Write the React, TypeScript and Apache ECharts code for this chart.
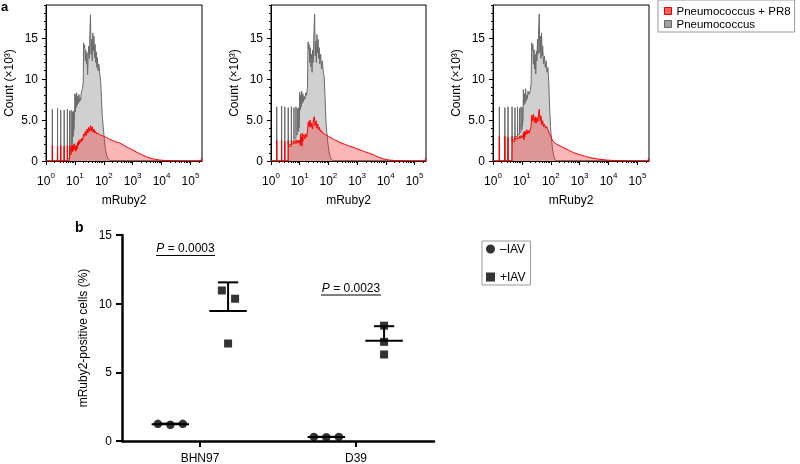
import React, { useEffect, useRef } from 'react';
import * as echarts from 'echarts';

const FONT = '"Liberation Sans", Arial, Helvetica, sans-serif';

// ---------- Panel a: flow cytometry histograms (x = log10 mRuby2, y = count x10^3) ----------
const X_MAX = 5.4;
const Y_MAX = 19;
const DECADE_TICKS = [0, 1, 2, 3, 4, 5];
const Y_LABEL_TICKS = [0, 5, 10, 15];
const LOG_MINOR: number[] = [];
for (let n = 0; n <= 5; n++) for (let k = 2; k <= 9; k++) { const v = n + Math.log10(k); if (v < X_MAX) LOG_MINOR.push(v); }

const NAME_PR8 = 'Pneumococcus + PR8';
const NAME_PN = 'Pneumococcus';

// low-channel spikes (position, peak, level after spike)
const SPIKE_X = [
  [0.22, 0.40, 0.51, 0.63, 0.74, 0.82, 0.87, 0.92, 0.96],
  [0.20, 0.37, 0.48, 0.60, 0.71, 0.80, 0.87, 0.92, 0.97],
  [0.22, 0.41, 0.52, 0.66, 0.76, 0.85, 0.92, 0.97, 1.01],
];
const GRAY_PEAK = [
  [6.3, 6.4, 6.2, 6.2, 6.3, 6.1, 6.2, 6.0, 6.1],
  [6.6, 6.7, 6.6, 6.5, 6.6, 6.5, 6.6, 6.4, 6.5],
  [6.6, 6.5, 6.6, 6.6, 6.5, 6.6, 6.4, 6.6, 6.5],
];
const GRAY_GAP = [
  [0, 0, 0, 0, 0, 0.8, 2.0, 3.0, 3.8],
  [0, 0, 0, 2.0, 2.4, 2.8, 3.2, 3.6, 4.0],
  [0, 0, 0, 2.6, 3.0, 3.2, 3.5, 3.8, 4.2],
];
const RED_PEAK = [
  [1.9, 1.8, 1.9, 1.8, 1.9, 1.8, 1.9, 1.9, 2.0],
  [2.5, 2.5, 2.4, 2.5, 2.5, 2.4, 2.6, 2.5, 2.5],
  [3.0, 3.0, 2.9, 3.0, 3.0, 2.9, 3.0, 3.1, 3.0],
];
const RED_GAP = [
  [0, 0, 0, 0, 0.3, 0.8, 1.1, 1.3, 1.5],
  [0, 0, 0, 1.8, 2.1, 2.2, 2.2, 2.3, 2.3],
  [0, 0, 0, 2.4, 2.7, 2.8, 2.8, 2.9, 2.9],
];

const GRAY_TAIL_1 = [[0.99,5.8],[1.0,8.2],[1.02,6.0],[1.03,8.0],[1.05,6.5],[1.06,8.3],[1.08,6.8],[1.10,7.9],[1.12,7.0],[1.14,8.1],[1.16,7.2],[1.18,7.7],[1.20,7.4],[1.22,8.3],[1.26,8.8],[1.29,9.6],[1.30,14.4],[1.32,13.8],[1.34,14.1],[1.36,12.2],[1.38,13.5],[1.40,11.8],[1.42,13.2],[1.44,10.5],[1.46,12.8],[1.48,14.0],[1.50,12.5],[1.52,15.8],[1.54,17.8],[1.56,13.0],[1.58,14.8],[1.60,12.2],[1.62,15.6],[1.64,13.4],[1.66,15.2],[1.68,12.6],[1.70,14.2],[1.72,12.0],[1.74,13.3],[1.76,11.4],[1.78,12.6],[1.80,11.0],[1.83,11.8],[1.86,10.6],[1.89,9.8],[1.92,7.6],[1.95,5.4],[1.98,4.2],[2.02,2.6],[2.06,1.4],[2.10,0.7],[2.15,0.25],[2.22,0.05],[2.3,0],[5.4,0]];
const RED_TAIL_1 = [[0.99,2.1],[1.0,1.6],[1.02,1.2],[1.03,1.8],[1.05,1.3],[1.06,1.9],[1.08,1.5],[1.10,2.3],[1.12,1.9],[1.14,2.5],[1.16,2.1],[1.18,2.6],[1.21,2.3],[1.24,2.8],[1.27,2.5],[1.30,3.3],[1.33,3.0],[1.36,3.6],[1.39,3.1],[1.42,3.9],[1.45,3.4],[1.48,4.1],[1.51,3.6],[1.54,4.3],[1.57,3.7],[1.60,4.2],[1.63,3.5],[1.66,3.9],[1.69,3.4],[1.72,3.6],[1.76,3.3],[1.80,3.4],[1.85,3.2],[1.90,3.15],[2.0,3.0],[2.1,2.85],[2.2,2.65],[2.3,2.5],[2.4,2.35],[2.55,2.2],[2.7,1.9],[2.85,1.6],[3.0,1.35],[3.15,1.05],[3.3,0.8],[3.47,0.53],[3.6,0.36],[3.75,0.22],[3.93,0.12],[4.1,0.07],[4.4,0.03],[4.7,0.01],[5.0,0],[5.37,0],[5.38,0.3],[5.4,0]];
const GRAY_TAIL_2 = [[0.99,5.5],[1.0,8.4],[1.02,6.2],[1.03,8.0],[1.05,6.6],[1.07,8.5],[1.09,7.0],[1.11,8.2],[1.13,7.2],[1.15,7.9],[1.18,7.5],[1.21,8.3],[1.24,8.0],[1.27,9.0],[1.29,14.5],[1.31,13.6],[1.33,14.2],[1.35,12.0],[1.37,13.8],[1.39,11.5],[1.41,13.0],[1.43,10.8],[1.45,13.5],[1.47,12.0],[1.49,15.0],[1.52,17.9],[1.54,12.8],[1.56,14.6],[1.58,12.0],[1.60,15.4],[1.62,13.2],[1.64,14.8],[1.66,12.5],[1.68,13.8],[1.70,11.8],[1.73,13.0],[1.76,11.2],[1.79,12.2],[1.82,10.8],[1.85,10.4],[1.88,8.0],[1.91,5.2],[1.94,3.6],[1.98,2.2],[2.02,1.2],[2.06,0.55],[2.10,0.2],[2.16,0.04],[2.22,0],[5.4,0]];
const RED_TAIL_2 = [[0.99,2.5],[1.0,2.4],[1.02,1.9],[1.03,3.3],[1.05,2.2],[1.06,2.9],[1.08,1.8],[1.09,3.4],[1.11,2.4],[1.12,3.0],[1.15,3.2],[1.18,2.7],[1.21,3.3],[1.24,2.9],[1.27,3.6],[1.30,4.8],[1.33,4.2],[1.36,5.0],[1.39,4.1],[1.42,4.6],[1.45,3.9],[1.48,5.1],[1.51,5.4],[1.54,4.3],[1.57,4.9],[1.60,4.0],[1.63,4.5],[1.66,3.8],[1.69,4.1],[1.72,3.6],[1.76,3.7],[1.80,3.4],[1.85,3.3],[1.90,3.2],[2.0,3.0],[2.1,2.8],[2.2,2.6],[2.38,2.3],[2.55,2.05],[2.7,1.85],[2.92,1.6],[3.1,1.35],[3.25,1.15],[3.41,0.97],[3.6,0.7],[3.75,0.45],[3.93,0.24],[4.1,0.12],[4.3,0.06],[4.5,0.03],[4.8,0.01],[5.0,0],[5.37,0],[5.38,0.3],[5.4,0]];
const GRAY_TAIL_3 = [[1.04,5.0],[1.05,8.7],[1.07,6.8],[1.09,8.2],[1.11,7.0],[1.13,8.8],[1.15,7.3],[1.17,8.0],[1.19,7.6],[1.21,8.5],[1.25,8.1],[1.29,8.6],[1.32,9.4],[1.34,14.4],[1.36,13.5],[1.38,14.2],[1.40,11.8],[1.42,13.6],[1.44,11.2],[1.46,13.0],[1.48,10.6],[1.50,13.4],[1.52,12.2],[1.54,14.8],[1.56,13.0],[1.58,16.0],[1.60,17.9],[1.62,13.2],[1.64,15.2],[1.66,12.5],[1.68,15.6],[1.70,12.8],[1.72,14.0],[1.75,11.8],[1.78,12.8],[1.81,11.4],[1.84,12.2],[1.87,10.8],[1.90,11.4],[1.93,9.6],[1.96,6.6],[1.99,4.2],[2.03,2.4],[2.07,1.2],[2.11,0.5],[2.15,0.15],[2.22,0],[5.4,0]];
const RED_TAIL_3 = [[1.04,2.9],[1.05,3.4],[1.07,2.6],[1.08,3.6],[1.10,2.9],[1.11,3.6],[1.14,3.2],[1.17,3.8],[1.20,3.3],[1.23,3.7],[1.26,3.4],[1.29,3.9],[1.32,4.2],[1.34,5.6],[1.37,4.9],[1.40,5.7],[1.43,4.7],[1.46,5.4],[1.49,4.6],[1.52,5.3],[1.55,4.8],[1.58,5.8],[1.60,6.3],[1.63,4.9],[1.66,5.5],[1.69,4.4],[1.72,4.9],[1.75,4.2],[1.78,4.5],[1.82,4.0],[1.86,4.2],[1.90,3.8],[1.93,3.5],[1.97,3.2],[2.0,3.0],[2.07,2.4],[2.2,2.05],[2.4,1.7],[2.6,1.35],[2.8,1.0],[3.0,0.78],[3.2,0.55],[3.4,0.38],[3.6,0.25],[3.92,0.12],[4.2,0.05],[4.5,0.02],[4.8,0],[5.37,0],[5.38,0.3],[5.4,0]];

const GRAY_TAILS = [GRAY_TAIL_1, GRAY_TAIL_2, GRAY_TAIL_3];
const RED_TAILS = [RED_TAIL_1, RED_TAIL_2, RED_TAIL_3];

// ---------- Panel b: mRuby2-positive cells (%) ----------
const CATEGORIES = ['BHN97', 'D39'];
const NEG_IAV = [[1.25, 1.18, 1.25], [0.30, 0.27, 0.30]];
const POS_IAV = [[10.96, 10.36, 7.10], [8.40, 7.22, 6.30]];
const P_VALUES = ['0.0003', '0.0023'];

// layout-only constants
const HIST_GRIDS = [
  { left: 46, top: 5, width: 156, height: 156 },
  { left: 271, top: 5, width: 155, height: 156 },
  { left: 493, top: 5, width: 156, height: 156 },
];
const SPIKE_HALF = 0.005;
const NEG_OFFSET = -0.19;
const POS_OFFSET = 0.18;
const NEG_JITTER = [[-0.08, 0, 0.08], [-0.08, 0, 0.08]];
const POS_JITTER = [[-0.04, 0.045, 0], [0, 0, 0]];
const MEAN_HALF = 0.12;
const CAP_HALF = 0.065;

function buildHist(xs: number[], peaks: number[], gaps: number[], tail: number[][]) {
  const pts: number[][] = [[0, 0]];
  let prev = 0;
  xs.forEach((x, i) => {
    pts.push([x - SPIKE_HALF, prev], [x, peaks[i]], [x + SPIKE_HALF, gaps[i]]);
    prev = gaps[i];
  });
  return pts.concat(tail);
}

function mean(a: number[]) { return a.reduce((s, v) => s + v, 0) / a.length; }
function sd(a: number[]) { const m = mean(a); return Math.sqrt(a.reduce((s, v) => s + (v - m) * (v - m), 0) / (a.length - 1)); }

export default function App() {
  const ref = useRef<HTMLDivElement>(null);
  useEffect(() => {
    if (!ref.current) return;
    const chart = echarts.init(ref.current, undefined, { renderer: 'svg' });

    const grid: any[] = HIST_GRIDS.map((g) => ({ ...g, show: true, borderColor: '#000', borderWidth: 1, backgroundColor: 'transparent' }));
    grid.push({ left: 122, top: 235, width: 312, height: 207 });

    const xAxis: any[] = [];
    const yAxis: any[] = [];
    const series: any[] = [];

    HIST_GRIDS.forEach((_, i) => {
      xAxis.push({
        gridIndex: i, type: 'value', position: 'bottom', min: 0, max: X_MAX,
        axisLine: { show: true, lineStyle: { color: '#000', width: 1 } },
        axisTick: { show: true, length: 4, customValues: DECADE_TICKS, lineStyle: { color: '#000', width: 1 } },
        axisLabel: {
          customValues: DECADE_TICKS, margin: 10,
          formatter: (v: number) => `{b|10}{s|${v}}`,
          rich: {
            b: { fontSize: 12, fontFamily: FONT, color: '#000', lineHeight: 16, verticalAlign: 'bottom' },
            s: { fontSize: 8, fontFamily: FONT, color: '#000', lineHeight: 9, verticalAlign: 'top' },
          },
        },
        splitLine: { show: false },
        name: 'mRuby2', nameLocation: 'middle', nameGap: 33,
        nameTextStyle: { fontSize: 12, fontFamily: FONT, color: '#000' },
      });
      xAxis.push({
        gridIndex: i, type: 'value', position: 'bottom', min: 0, max: X_MAX,
        axisLine: { show: false },
        axisTick: { show: true, length: 2, customValues: LOG_MINOR, lineStyle: { color: '#000', width: 1 } },
        axisLabel: { show: false }, splitLine: { show: false },
      });
      yAxis.push({
        gridIndex: i, type: 'value', position: 'left', min: 0, max: Y_MAX,
        axisLine: { show: true, lineStyle: { color: '#000', width: 1 } },
        axisTick: { show: true, length: 4, customValues: Y_LABEL_TICKS, lineStyle: { color: '#000', width: 1 } },
        axisLabel: {
          customValues: Y_LABEL_TICKS, margin: 8, fontSize: 12, fontFamily: FONT, color: '#000',
          formatter: (v: number) => (v === 5 ? '5.0' : String(v)),
        },
        splitLine: { show: false },
        name: 'Count (×10³)', nameLocation: 'middle', nameGap: 31,
        nameTextStyle: { fontSize: 12, fontFamily: FONT, color: '#000' },
      });
      yAxis.push({
        gridIndex: i, type: 'value', position: 'left', min: 0, max: Y_MAX, interval: 1,
        axisLine: { show: false },
        axisTick: { show: true, length: 2, lineStyle: { color: '#000', width: 1 } },
        axisLabel: { show: false }, splitLine: { show: false },
      });

      series.push({
        name: NAME_PN, type: 'line', xAxisIndex: 2 * i, yAxisIndex: 2 * i,
        data: buildHist(SPIKE_X[i], GRAY_PEAK[i], GRAY_GAP[i], GRAY_TAILS[i]),
        symbol: 'none', showSymbol: false, smooth: false,
        color: '#6a6a6a',
        lineStyle: { color: '#6a6a6a', width: 1 },
        areaStyle: { color: '#d0d0d0', opacity: 1 },
        z: 2, silent: true,
      });
      series.push({
        name: NAME_PR8, type: 'line', xAxisIndex: 2 * i, yAxisIndex: 2 * i,
        data: buildHist(SPIKE_X[i], RED_PEAK[i], RED_GAP[i], RED_TAILS[i]),
        symbol: 'none', showSymbol: false, smooth: false,
        color: '#ff0000',
        lineStyle: { color: '#ff0000', width: 1 },
        areaStyle: { color: 'rgba(250,40,40,0.48)' },
        z: 3, silent: true,
      });
    });

    // Panel b axes
    xAxis.push({
      gridIndex: 3, type: 'category', data: CATEGORIES, position: 'bottom', boundaryGap: true,
      axisLine: { show: true, lineStyle: { color: '#000', width: 2.5 } },
      axisTick: { show: true, alignWithLabel: true, length: 6, lineStyle: { color: '#000', width: 2 } },
      axisLabel: { fontSize: 12, fontFamily: FONT, color: '#000', margin: 11 },
      splitLine: { show: false },
    });
    xAxis.push({ gridIndex: 3, type: 'value', min: 0, max: 2, show: false, position: 'bottom' });
    yAxis.push({
      gridIndex: 3, type: 'value', position: 'left', min: 0, max: 15, interval: 5,
      axisLine: { show: true, lineStyle: { color: '#000', width: 2.5 } },
      axisTick: { show: true, length: 6, lineStyle: { color: '#000', width: 2 } },
      axisLabel: { fontSize: 12, fontFamily: FONT, color: '#000', margin: 10 },
      splitLine: { show: false },
      name: 'mRuby2-positive cells (%)', nameLocation: 'middle', nameGap: 33,
      nameTextStyle: { fontSize: 12, fontFamily: FONT, color: '#000' },
    });

    const negPts: number[][] = [];
    const posPts: number[][] = [];
    const summary: number[][] = [];
    CATEGORIES.forEach((_, c) => {
      NEG_IAV[c].forEach((v, j) => negPts.push([c + 0.5 + NEG_OFFSET + NEG_JITTER[c][j], v]));
      POS_IAV[c].forEach((v, j) => posPts.push([c + 0.5 + POS_OFFSET + POS_JITTER[c][j], v]));
      summary.push([c + 0.5 + NEG_OFFSET, mean(NEG_IAV[c]), sd(NEG_IAV[c])]);
      summary.push([c + 0.5 + POS_OFFSET, mean(POS_IAV[c]), sd(POS_IAV[c])]);
    });

    series.push({
      name: 'summary', type: 'custom', xAxisIndex: 7, yAxisIndex: 6, data: summary, silent: true, z: 2,
      renderItem: (_p: any, api: any) => {
        const x = api.value(0), m = api.value(1), s = api.value(2);
        const l = api.coord([x - MEAN_HALF, m]);
        const r = api.coord([x + MEAN_HALF, m]);
        const c0 = api.coord([x, m]);
        const t = api.coord([x, m + s]);
        const cl = api.coord([x - CAP_HALF, m + s]);
        const cr = api.coord([x + CAP_HALF, m + s]);
        const st = { stroke: '#000', lineWidth: 2 };
        return {
          type: 'group',
          children: [
            { type: 'line', shape: { x1: l[0], y1: l[1], x2: r[0], y2: r[1] }, style: st },
            { type: 'line', shape: { x1: c0[0], y1: c0[1], x2: t[0], y2: t[1] }, style: st },
            { type: 'line', shape: { x1: cl[0], y1: cl[1], x2: cr[0], y2: cr[1] }, style: st },
          ],
        };
      },
    });
    series.push({
      name: '–IAV', type: 'scatter', xAxisIndex: 7, yAxisIndex: 6, data: negPts,
      symbol: 'circle', symbolSize: 8.5, itemStyle: { color: '#000' }, z: 3, silent: true,
    });
    series.push({
      name: '+IAV', type: 'scatter', xAxisIndex: 7, yAxisIndex: 6, data: posPts,
      symbol: 'rect', symbolSize: 8, itemStyle: { color: '#000' }, z: 3, silent: true,
    });

    const pText = (x: number, y: number, val: string) => ({
      type: 'text', x, y,
      style: {
        text: `{i|P} = ${val}`,
        rich: { i: { fontStyle: 'italic', fontSize: 12, fontFamily: FONT, fill: '#000' } },
        fontSize: 12, fontFamily: FONT, fill: '#000', align: 'center', verticalAlign: 'middle',
      },
    });
    const hLine = (x1: number, x2: number, y: number) => ({
      type: 'line', shape: { x1, y1: y, x2, y2: y }, style: { stroke: '#000', lineWidth: 1 },
    });

    chart.setOption({
      animation: false,
      textStyle: { fontFamily: FONT },
      grid, xAxis, yAxis, series,
      legend: [
        {
          left: 658, top: 0, orient: 'vertical', selectedMode: false,
          data: [
            { name: NAME_PR8, icon: 'rect', itemStyle: { color: '#ff6060', borderColor: '#e00000', borderWidth: 1 } },
            { name: NAME_PN, icon: 'rect', itemStyle: { color: '#a0a0a0', borderColor: '#666', borderWidth: 1 } },
          ],
          itemWidth: 7, itemHeight: 7, itemGap: 1, padding: [5, 4, 2, 6],
          borderColor: '#999', borderWidth: 1,
          textStyle: { fontSize: 11.5, lineHeight: 12, color: '#000', fontFamily: FONT },
        },
        {
          left: 482, top: 241, orient: 'vertical', selectedMode: false,
          data: [{ name: '–IAV', icon: 'circle' }, { name: '+IAV', icon: 'rect' }],
          itemWidth: 9, itemHeight: 9, itemGap: 14, padding: [1, 5, 1, 4],
          borderColor: '#999', borderWidth: 1,
          textStyle: { fontSize: 12, lineHeight: 14, color: '#000', fontFamily: FONT },
        },
      ],
      graphic: [
        { type: 'text', x: 1, y: 0, style: { text: 'a', fontSize: 13, fontWeight: 'bold', fontFamily: FONT, fill: '#000', align: 'left', verticalAlign: 'top' } },
        { type: 'text', x: 75, y: 226.5, style: { text: 'b', fontSize: 14, fontWeight: 'bold', fontFamily: FONT, fill: '#000', align: 'left', verticalAlign: 'middle' } },
        pText(185.5, 247.5, P_VALUES[0]),
        hLine(156, 215, 255.5),
        pText(351, 287.5, P_VALUES[1]),
        hLine(321, 381, 295),
      ],
    });
    return () => chart.dispose();
  }, []);
  return <div ref={ref} style={{ position: 'fixed', left: 0, top: 0, width: 800, height: 464 }} />;
}
